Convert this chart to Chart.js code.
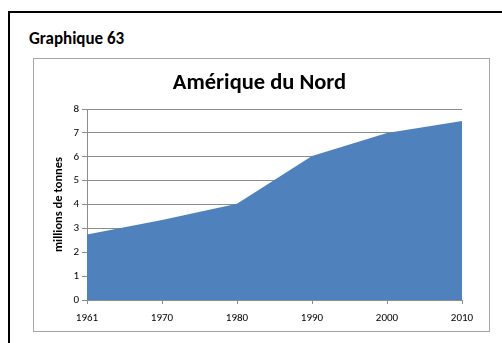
<!DOCTYPE html>
<html>
<head>
<meta charset="utf-8">
<script src="https://cdn.jsdelivr.net/npm/chart.js@4"></script>
<style>
    body { margin: 0; width: 502px; height: 343px; overflow: hidden; background: #fff; font-family: Carlito, Lato, sans-serif; }
    #frame { position: absolute; left: 8px; top: 11px; width: 510px; height: 360px; border: 2px solid #000; box-sizing: border-box; }
    #heading { position: absolute; left: 29px; top: 28px; font-size: 17px; font-weight: bold; color: #000; }
    #box { position: absolute; left: 33px; top: 58px; width: 457px; height: 274px; border: 1px solid #a6a6a6; box-sizing: border-box; }
    #wrap { position: absolute; left: 34px; top: 59px; width: 455px; height: 272px; }
</style>
</head>
<body>
<div id="frame"></div>
<div id="heading">Graphique 63</div>
<div id="box"></div>
<div id="wrap"><canvas id="chart"></canvas></div>
<script>
// ===== Data =====
const years = ['1961', '1970', '1980', '1990', '2000', '2010'];
const tonnes = [2.74, 3.35, 4.03, 6.03, 7.0, 7.5]; // millions de tonnes
const yTicks = [0, 1, 2, 3, 4, 5, 6, 7, 8];

const FONT = 'Carlito, Lato, sans-serif';
const GRID = '#8c8c8c';

const ctx = document.getElementById('chart').getContext('2d');
new Chart(ctx, {
    type: 'line',
    data: {
        labels: years,
        datasets: [{
            data: tonnes,
            fill: 'origin',
            backgroundColor: '#4f81bd',
            borderWidth: 0,
            pointRadius: 0,
            tension: 0
        }]
    },
    options: {
        responsive: true,
        maintainAspectRatio: false,
        animation: false,
        // left padding kept close to the plot so the title centres over it
        layout: { padding: { left: 23, right: 27, top: 0, bottom: 2 } },
        plugins: {
            legend: { display: false },
            tooltip: { enabled: false },
            title: {
                display: true,
                text: 'Amérique du Nord',
                color: '#000',
                font: { family: FONT, size: 22.5, weight: 'bold' },
                padding: { top: 11, bottom: 12 }
            }
        },
        scales: {
            x: {
                offset: false,
                grid: { drawOnChartArea: false, drawTicks: true, tickLength: 4, color: GRID },
                border: { color: GRID },
                ticks: { color: '#000', padding: 8, maxRotation: 0, font: { family: FONT, size: 11 } },
                afterFit: (s) => { s.height = 29; }
            },
            y: {
                min: 0,
                max: 8,
                afterBuildTicks: (s) => { s.ticks = yTicks.map(v => ({ value: v })); },
                grid: { color: GRID, tickLength: 5 },
                border: { color: GRID },
                ticks: { color: '#000', padding: 3, font: { family: FONT, size: 11 } },
                title: {
                    display: true,
                    text: 'millions de tonnes',
                    color: '#000',
                    font: { family: FONT, size: 12.5, weight: 'bold' },
                    padding: { top: -6, bottom: 0 }
                },
                afterFit: (s) => { s.width = 30; }
            }
        }
    }
});
</script>
</body>
</html>
